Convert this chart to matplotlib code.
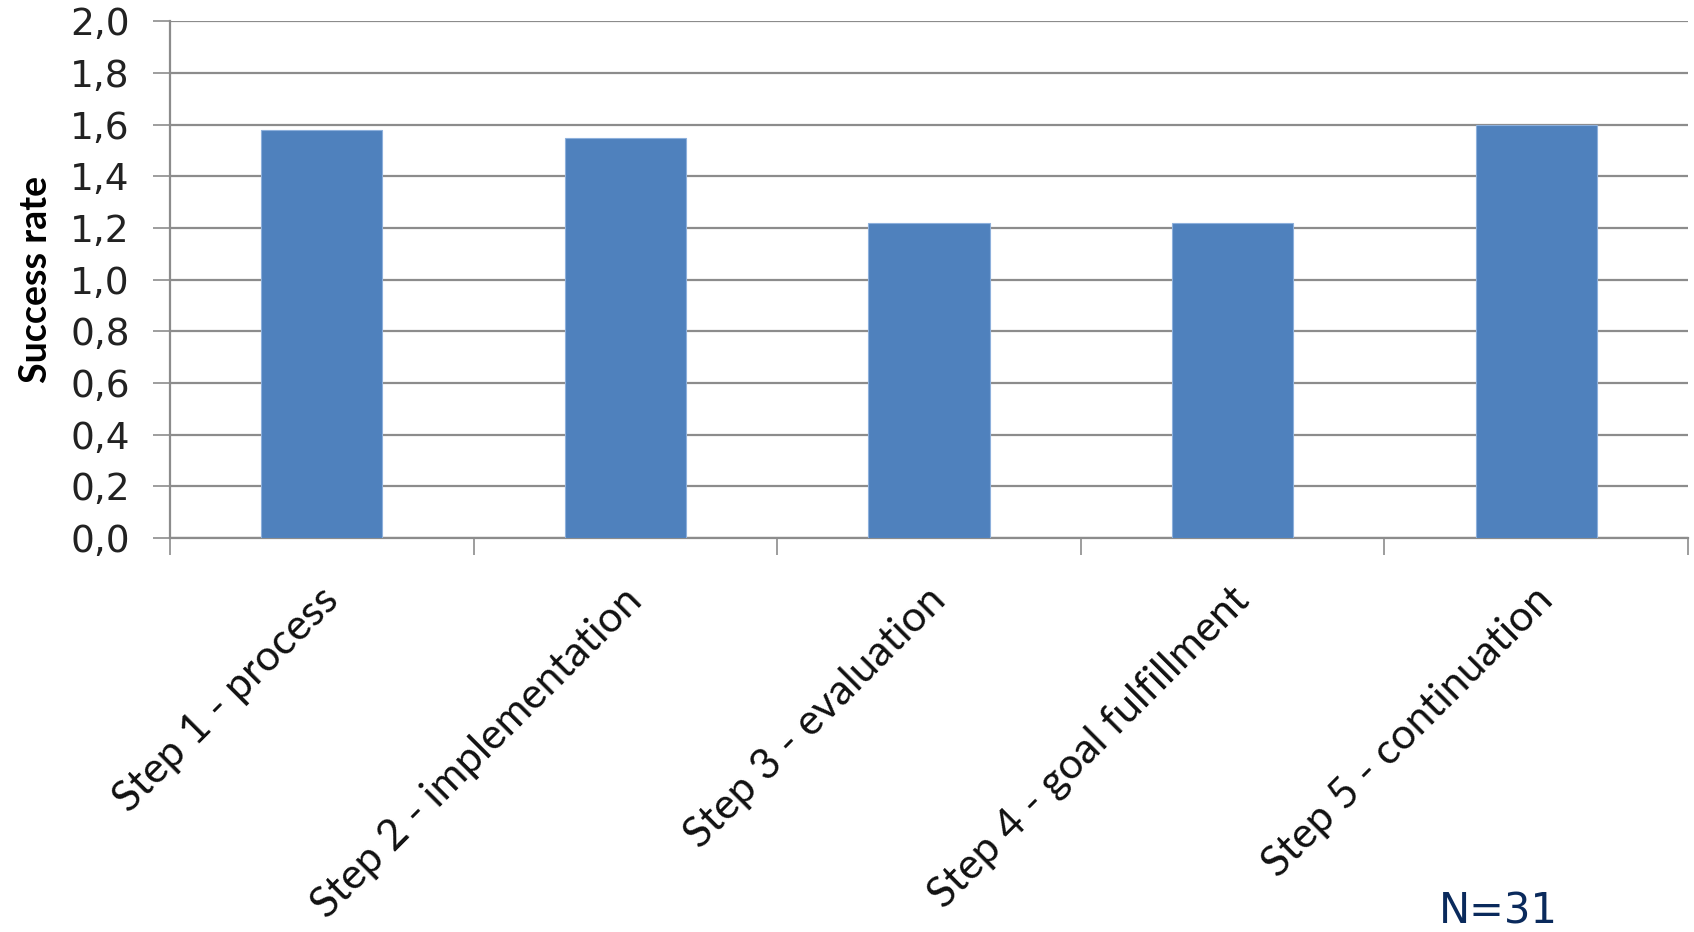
import matplotlib
matplotlib.use('Agg')
import matplotlib.pyplot as plt
import numpy as np

# data
steps = ['Step 1 - process', 'Step 2 - implementation', 'Step 3 - evaluation',
         'Step 4 - goal fulfillment', 'Step 5 - continuation']
rates = [1.58, 1.55, 1.22, 1.22, 1.60]
yticks = [0.0, 0.2, 0.4, 0.6, 0.8, 1.0, 1.2, 1.4, 1.6, 1.8, 2.0]
n_label = 'N=31'


def main():
    fig = plt.figure(figsize=(16.94, 9.32), dpi=100)
    ax = fig.add_axes([0.1003, 0.4227, 0.8962, 0.5543])

    x = np.arange(len(steps))
    ax.bar(x, rates, width=0.4, color='#4F81BD', edgecolor='#8DB0DC', linewidth=0.8, zorder=3)

    ax.set_xlim(-0.5, len(steps) - 0.5)
    ax.set_ylim(0, 2.0)
    ax.set_yticks(yticks)
    ax.set_yticklabels([('%.1f' % v).replace('.', ',') for v in yticks],
                       fontsize=27, color='#222222')
    ax.yaxis.grid(True, color='#8C8C8C', linewidth=1.6, zorder=0)

    # category boundary ticks below the axis
    ax.set_xticks(np.arange(len(steps) + 1) - 0.5)
    ax.set_xticklabels([])
    ax.tick_params(axis='x', length=12, width=1.2, color='#8C8C8C', direction='out')
    ax.tick_params(axis='y', length=12, width=1.2, color='#8C8C8C', direction='out', pad=17)

    for i, s in enumerate(steps):
        ax.text(i - 0.01, -0.165, s, rotation=45, ha='right', va='top',
                rotation_mode='anchor', fontsize=30.5, family='Lato', color='#111111')

    for side in ['top', 'right']:
        ax.spines[side].set_visible(False)
    for side in ['left', 'bottom']:
        ax.spines[side].set_color('#8C8C8C')
        ax.spines[side].set_linewidth(1.6)

    ax.set_ylabel('Success rate', fontsize=27, fontweight='bold', family='Lato', labelpad=12)

    fig.text(0.8495, 0.009, n_label, fontsize=30, color='#0A2A5C')

    fig.savefig('out.png', dpi=100)
    plt.close('all')


main()
